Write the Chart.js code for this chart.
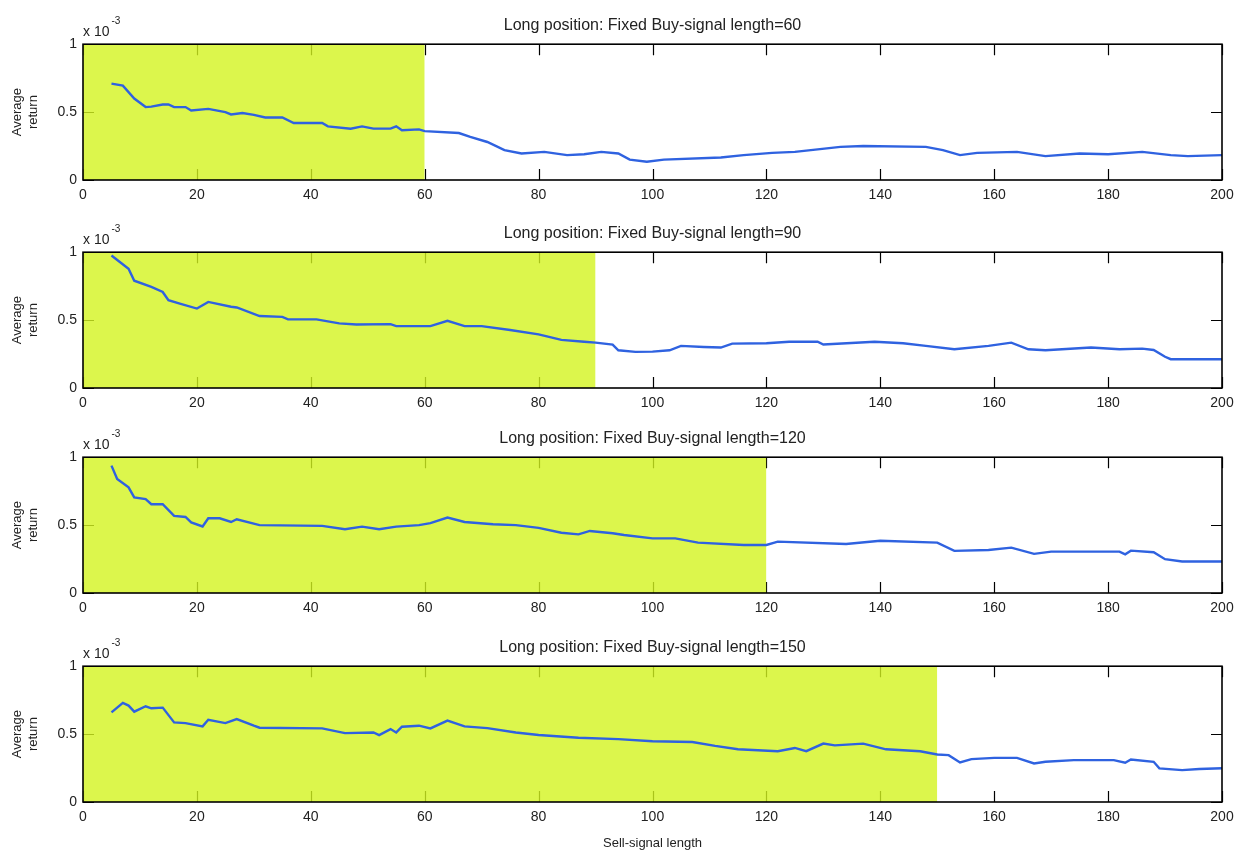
<!DOCTYPE html>
<html>
<head>
<meta charset="utf-8">
<script src="https://cdn.jsdelivr.net/npm/chart.js@4.4.1/dist/chart.umd.min.js"></script>
<style>
  body { margin: 0; background: #fff; width: 1242px; height: 857px; overflow: hidden; position: relative; }
  canvas { position: absolute; left: 0; }
</style>
</head>
<body>
<canvas id="p60" width="1242" height="208" style="top:0px"></canvas>
<canvas id="p90" width="1242" height="208" style="top:208px"></canvas>
<canvas id="p120" width="1242" height="208" style="top:413px"></canvas>
<canvas id="p150" width="1242" height="235" style="top:622px"></canvas>
<script>
// buy-signal length of each panel (shaded from 0 up to it)
const buyLengths = [60, 90, 120, 150];

// average return (x 10^-3) against sell-signal length
const sell60 = [5, 7, 9, 11, 12, 14, 15, 16, 18, 19, 22, 25, 26, 28, 30, 32, 35, 37, 42, 43,
  47, 49, 51, 54, 55, 56, 59, 60, 66, 68, 71, 74, 77, 81, 85, 88, 91, 94, 96, 99,
  102, 112, 116, 121, 125, 133, 137, 148, 151, 154, 157, 164, 169, 175, 180, 186, 191, 194, 200];
const ret60 = [0.71, 0.695, 0.60, 0.537, 0.54, 0.556, 0.556, 0.537, 0.537, 0.512, 0.524, 0.50, 0.483, 0.493, 0.48, 0.46, 0.46, 0.42, 0.42, 0.395,
  0.378, 0.395, 0.378, 0.378, 0.395, 0.366, 0.373, 0.36, 0.346, 0.317, 0.28, 0.22, 0.195, 0.207, 0.183, 0.19, 0.207, 0.195, 0.15, 0.134,
  0.15, 0.166, 0.183, 0.20, 0.207, 0.244, 0.25, 0.244, 0.22, 0.183, 0.20, 0.207, 0.176, 0.195, 0.19, 0.207, 0.183, 0.176, 0.183];

const sell90 = [5, 8, 9, 12, 14, 15, 17, 20, 22, 26, 27, 31, 35, 36, 41, 45, 48, 54, 55, 61,
  64, 67, 70, 75, 80, 84, 88, 90, 93, 94, 97, 100, 103, 105, 109, 112, 114, 120, 124, 129,
  130, 139, 144, 148, 153, 159, 163, 166, 169, 177, 182, 186, 188, 190, 191, 200];
const ret90 = [0.976, 0.878, 0.79, 0.744, 0.707, 0.646, 0.622, 0.585, 0.634, 0.598, 0.593, 0.53, 0.524, 0.505, 0.505, 0.476, 0.468, 0.47, 0.456, 0.456,
  0.495, 0.456, 0.456, 0.427, 0.395, 0.354, 0.341, 0.334, 0.32, 0.278, 0.266, 0.268, 0.278, 0.31, 0.302, 0.298, 0.327, 0.33, 0.341, 0.341,
  0.32, 0.341, 0.33, 0.31, 0.285, 0.31, 0.334, 0.285, 0.278, 0.298, 0.285, 0.29, 0.28, 0.23, 0.212, 0.212];

const sell120 = [5, 6, 8, 9, 11, 12, 14, 16, 18, 19, 21, 22, 24, 26, 27, 31, 42, 46, 49, 52,
  55, 59, 61, 64, 67, 72, 76, 80, 84, 87, 89, 93, 95, 100, 104, 108, 116, 120, 122, 134,
  140, 150, 153, 159, 163, 167, 170, 182, 183, 184, 188, 190, 193, 200];
const ret120 = [0.938, 0.84, 0.778, 0.704, 0.691, 0.654, 0.654, 0.568, 0.56, 0.52, 0.49, 0.55, 0.55, 0.523, 0.543, 0.50, 0.494, 0.469, 0.489, 0.469,
  0.489, 0.50, 0.514, 0.556, 0.523, 0.506, 0.50, 0.48, 0.444, 0.432, 0.457, 0.44, 0.427, 0.402, 0.402, 0.371, 0.354, 0.354, 0.378, 0.361,
  0.385, 0.371, 0.31, 0.317, 0.334, 0.288, 0.305, 0.305, 0.285, 0.312, 0.30, 0.249, 0.232, 0.232];

const sell150 = [5, 7, 8, 9, 11, 12, 14, 16, 18, 21, 22, 25, 27, 30, 31, 42, 46, 51, 52, 54,
  55, 56, 59, 61, 64, 67, 71, 76, 80, 87, 94, 100, 107, 111, 115, 122, 125, 127, 130, 132,
  137, 141, 147, 150, 152, 154, 156, 160, 164, 167, 169, 174, 181, 183, 184, 188, 189, 193, 196, 200];
const ret150 = [0.66, 0.73, 0.71, 0.665, 0.705, 0.69, 0.695, 0.586, 0.581, 0.557, 0.606, 0.581, 0.611, 0.562, 0.547, 0.542, 0.507, 0.512, 0.493, 0.537,
  0.512, 0.554, 0.562, 0.542, 0.599, 0.557, 0.544, 0.512, 0.493, 0.473, 0.463, 0.447, 0.442, 0.413, 0.388, 0.374, 0.398, 0.374, 0.43, 0.417,
  0.43, 0.388, 0.374, 0.35, 0.345, 0.291, 0.316, 0.325, 0.325, 0.284, 0.296, 0.308, 0.308, 0.289, 0.313, 0.296, 0.248, 0.235, 0.243, 0.248];

const xTickStep = 20;
const yTickStep = 0.5;

const FONT = "'Liberation Sans', Arial, sans-serif";
const PLOT_TOP = 44;
const PLOT_H = 136;
const PLOT_LEFT = 83;
const PAD_LEFT = 10;

// matlab style box: frame, inward ticks on all four sides, x 10^-3 multiplier
const matlabBox = {
  id: "matlabBox",
  beforeDatasetsDraw(chart) {
    const { ctx, chartArea: a, scales } = chart;
    const len = 11;
    ctx.save();
    ctx.strokeStyle = "#000";
    ctx.lineWidth = 1.2;
    ctx.beginPath();
    scales.x.ticks.forEach((t) => {
      const px = Math.round(scales.x.getPixelForValue(t.value)) + 0.5;
      ctx.moveTo(px, a.bottom); ctx.lineTo(px, a.bottom - len);
      ctx.moveTo(px, a.top); ctx.lineTo(px, a.top + len);
    });
    scales.y.ticks.forEach((t) => {
      const py = Math.round(scales.y.getPixelForValue(t.value)) + 0.5;
      ctx.moveTo(a.left, py); ctx.lineTo(a.left + len, py);
      ctx.moveTo(a.right, py); ctx.lineTo(a.right - len, py);
    });
    ctx.stroke();
    ctx.restore();
  },
  afterDatasetsDraw(chart) {
    const { ctx, chartArea: a } = chart;
    ctx.save();
    ctx.strokeStyle = "#000";
    ctx.lineWidth = 1.6;
    ctx.strokeRect(a.left, a.top, a.right - a.left, a.bottom - a.top);
    ctx.restore();
  },
  afterDraw(chart) {
    const { ctx, chartArea: a } = chart;
    ctx.save();
    ctx.fillStyle = "#222";
    ctx.textBaseline = "alphabetic";
    ctx.font = "14px " + FONT;
    ctx.fillText("x 10", a.left, a.top - 8);
    const w = ctx.measureText("x 10").width;
    ctx.font = "10px " + FONT;
    ctx.fillText("-3", a.left + w + 2, a.top - 20);
    ctx.restore();
  },
};

function makePanel(id, buy, xs, ys, showXTitle) {
  const canvas = document.getElementById(id);
  const xAxisH = canvas.height - PLOT_TOP - PLOT_H;
  const points = xs.map((x, i) => ({ x: x, y: ys[i] }));

  new Chart(canvas, {
    type: "line",
    data: {
      datasets: [
        {
          data: points,
          borderColor: "#2f62e0",
          borderWidth: 2.4,
          pointRadius: 0,
          fill: false,
          tension: 0,
          order: 1,
        },
        {
          // shaded buy-signal window
          data: [{ x: 0, y: 1 }, { x: buy, y: 1 }],
          borderWidth: 0,
          pointRadius: 0,
          fill: "origin",
          backgroundColor: "rgba(211, 244, 31, 0.8)",
          order: 2,
        },
      ],
    },
    options: {
      animation: false,
      responsive: false,
      events: [],
      layout: { padding: { left: PAD_LEFT, right: 20, top: 0, bottom: 0 } },
      plugins: {
        legend: { display: false },
        tooltip: { enabled: false },
        title: {
          display: true,
          fullSize: false,
          text: "Long position: Fixed Buy-signal length=" + buy,
          color: "#222",
          font: { family: FONT, size: 16, weight: "normal" },
          padding: { top: 16, bottom: 9 },
        },
      },
      scales: {
        x: {
          type: "linear",
          min: 0,
          max: 200,
          grid: { display: false, drawTicks: false },
          border: { display: false },
          ticks: { stepSize: xTickStep, color: "#222", font: { family: FONT, size: 14 }, padding: 7, maxRotation: 0 },
          title: {
            display: showXTitle,
            text: "Sell-signal length",
            color: "#222",
            font: { family: FONT, size: 13 },
            padding: { top: 4, bottom: 6 },
          },
          afterFit(scale) { scale.height = xAxisH; },
        },
        y: {
          min: 0,
          max: 1,
          grid: { display: false, drawTicks: false },
          border: { display: false },
          ticks: {
            stepSize: yTickStep,
            color: "#222",
            font: { family: FONT, size: 14 },
            padding: 6,
            callback: (v) => String(v),
          },
          title: {
            display: true,
            text: ["Average", "return"],
            color: "#222",
            font: { family: FONT, size: 13 },
            padding: { top: 0, bottom: 0 },
          },
          afterFit(scale) { scale.width = PLOT_LEFT - PAD_LEFT; },
        },
      },
    },
    plugins: [matlabBox],
  });
}

makePanel("p60", buyLengths[0], sell60, ret60, false);
makePanel("p90", buyLengths[1], sell90, ret90, false);
makePanel("p120", buyLengths[2], sell120, ret120, false);
makePanel("p150", buyLengths[3], sell150, ret150, true);
</script>
</body>
</html>
